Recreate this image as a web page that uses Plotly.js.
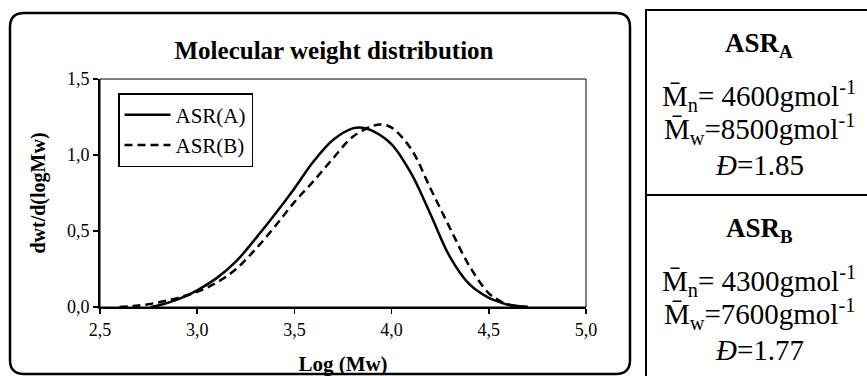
<!DOCTYPE html>
<html>
<head>
<meta charset="utf-8">
<script src="https://cdn.plot.ly/plotly-3.0.1.min.js"></script>
<style>
html,body{margin:0;padding:0;background:#fff;}
#chart{width:867px;height:376px;}
</style>
</head>
<body>
<div id="chart"></div>
<script>
// ---- data ----
const seriesNames = ['ASR(A)', 'ASR(B)'];
const logMwA = [2.76, 2.80, 2.90, 3.00, 3.10, 3.20, 3.30, 3.40, 3.50, 3.60, 3.70, 3.80, 3.85, 3.90, 4.00, 4.10, 4.20, 4.30, 4.40, 4.50, 4.55, 4.60, 4.70];
const dwtA   = [0.00, 0.01, 0.05, 0.11, 0.19, 0.30, 0.45, 0.61, 0.78, 0.96, 1.10, 1.175, 1.18, 1.16, 1.07, 0.88, 0.61, 0.33, 0.15, 0.06, 0.035, 0.015, 0.00];
const logMwB = [2.60, 2.70, 2.80, 2.90, 3.00, 3.10, 3.20, 3.30, 3.40, 3.50, 3.60, 3.70, 3.80, 3.90, 3.95, 4.00, 4.10, 4.20, 4.30, 4.40, 4.50, 4.55, 4.60, 4.70];
const dwtB   = [0.00, 0.01, 0.03, 0.06, 0.10, 0.16, 0.25, 0.38, 0.53, 0.69, 0.83, 0.98, 1.12, 1.19, 1.20, 1.18, 1.04, 0.78, 0.52, 0.27, 0.09, 0.045, 0.016, 0.00];
const xTickVals = [2.5, 3.0, 3.5, 4.0, 4.5, 5.0];
const yTickVals = [0.0, 0.5, 1.0, 1.5];
const chartTitle = 'Molecular weight distribution';
const xTitle = 'Log (Mw)';
const yTitle = 'dwt/d(logMw)';
const panelA = {name: 'ASR', sub: 'A', Mn: '4600', Mw: '8500', D: '1.85'};
const panelB = {name: 'ASR', sub: 'B', Mn: '4300', Mw: '7600', D: '1.77'};

// ---- layout geometry (pixels) ----
const W = 867, H = 376;
const PL = 100, PR = 586, PT = 79, PB = 307;
const pw = PR - PL, ph = PB - PT;
const fx = px => (px - PL) / pw;
const fy = py => (PB - py) / ph;
const FONT = 'Liberation Serif';

const traces = [
  {x: logMwA, y: dwtA, name: seriesNames[0], type: 'scatter', mode: 'lines',
   line: {color: '#000', width: 2.5, shape: 'spline', smoothing: 1}, legendgroup: 'a'},
  {x: logMwB, y: dwtB, name: seriesNames[1], type: 'scatter', mode: 'lines',
   line: {color: '#000', width: 2.5, dash: '8px,5px', shape: 'spline', smoothing: 1}, legendgroup: 'b'}
];

// outer rounded frame
const L = 10, R = 630, T = 13, B = 374, r = 14;
const rx = r / pw, ry = r / ph;
const framePath =
  `M ${fx(L)+rx} ${fy(T)} L ${fx(R)-rx} ${fy(T)} Q ${fx(R)} ${fy(T)} ${fx(R)} ${fy(T)-ry} ` +
  `L ${fx(R)} ${fy(B)+ry} Q ${fx(R)} ${fy(B)} ${fx(R)-rx} ${fy(B)} ` +
  `L ${fx(L)+rx} ${fy(B)} Q ${fx(L)} ${fy(B)} ${fx(L)} ${fy(B)+ry} ` +
  `L ${fx(L)} ${fy(T)-ry} Q ${fx(L)} ${fy(T)} ${fx(L)+rx} ${fy(T)} Z`;

const shapes = [
  {type: 'path', xref: 'paper', yref: 'paper', path: framePath, line: {color: '#000', width: 2.5}},
  {type: 'rect', xref: 'paper', yref: 'paper', x0: 0, x1: 1, y0: 0, y1: 1, line: {color: '#000', width: 1}},
  {type: 'line', xref: 'paper', yref: 'paper', x0: fx(646), x1: fx(646), y0: fy(10), y1: fy(380), line: {color: '#000', width: 2}},
  {type: 'line', xref: 'paper', yref: 'paper', x0: fx(645), x1: fx(870), y0: fy(10), y1: fy(10), line: {color: '#000', width: 2}},
  {type: 'line', xref: 'paper', yref: 'paper', x0: fx(645), x1: fx(870), y0: fy(195), y1: fy(195), line: {color: '#000', width: 2}}
];

function panelAnnotations(p, top) {
  const cx = fx(759);
  const mk = (text, py, size) => ({xref: 'paper', yref: 'paper', x: cx, y: fy(py), xanchor: 'center', yanchor: 'middle',
    showarrow: false, text: text, font: {family: FONT, size: size, color: '#000'}});
  return [
    mk(`<b>${p.name}<sub>${p.sub}</sub></b>`, top + 35, 27),
    mk(`M\u0304<sub>n</sub>= ${p.Mn}gmol<sup>-1</sup>`, top + 86, 29),
    mk(`M\u0304<sub>w</sub>=${p.Mw}gmol<sup>-1</sup>`, top + 119, 29),
    mk(`<i>\u0110</i>=${p.D}`, top + 155, 29)
  ];
}

const layout = {
  width: W, height: H,
  margin: {l: PL, r: W - PR, t: PT, b: H - PB, pad: 0},
  paper_bgcolor: '#fff', plot_bgcolor: '#fff',
  separators: ', ',
  font: {family: FONT, size: 18, color: '#000'},
  title: {text: `<b>${chartTitle}</b>`, font: {family: FONT, size: 25, color: '#000'},
          xref: 'container', yref: 'container', x: 334 / W, y: 1 - 50 / H, xanchor: 'center', yanchor: 'middle'},
  xaxis: {range: [2.5, 5.0], tickvals: xTickVals, tickformat: '.1f', showgrid: false, zeroline: false,
          showline: true, linecolor: '#000', linewidth: 2, ticks: 'outside', ticklen: 5, tickwidth: 1.5, tickcolor: '#000',
          tickfont: {family: FONT, size: 18, color: '#000'},
          title: {text: `<b>${xTitle}</b>`, font: {family: FONT, size: 21, color: '#000'}, standoff: 19}},
  yaxis: {range: [0, 1.5], tickvals: yTickVals, tickformat: '.1f', showgrid: false, zeroline: false,
          showline: true, linecolor: '#000', linewidth: 2, ticks: 'outside', ticklen: 5, tickwidth: 1.5, tickcolor: '#000',
          tickfont: {family: FONT, size: 18, color: '#000'},
          title: {text: `<b>${yTitle}</b>`, font: {family: FONT, size: 20, color: '#000'}, standoff: 16}},
  showlegend: true,
  legend: {x: fx(118), y: fy(93), xanchor: 'left', yanchor: 'top', bgcolor: '#fff',
           bordercolor: '#000', borderwidth: 1.5, font: {family: FONT, size: 21, color: '#000'},
           tracegroupgap: 8, traceorder: 'normal', itemwidth: 46, entrywidth: 136},
  shapes: shapes,
  annotations: [...panelAnnotations(panelA, 10), ...panelAnnotations(panelB, 195)]
};

Plotly.newPlot('chart', traces, layout, {displayModeBar: false, staticPlot: true});
</script>
</body>
</html>
